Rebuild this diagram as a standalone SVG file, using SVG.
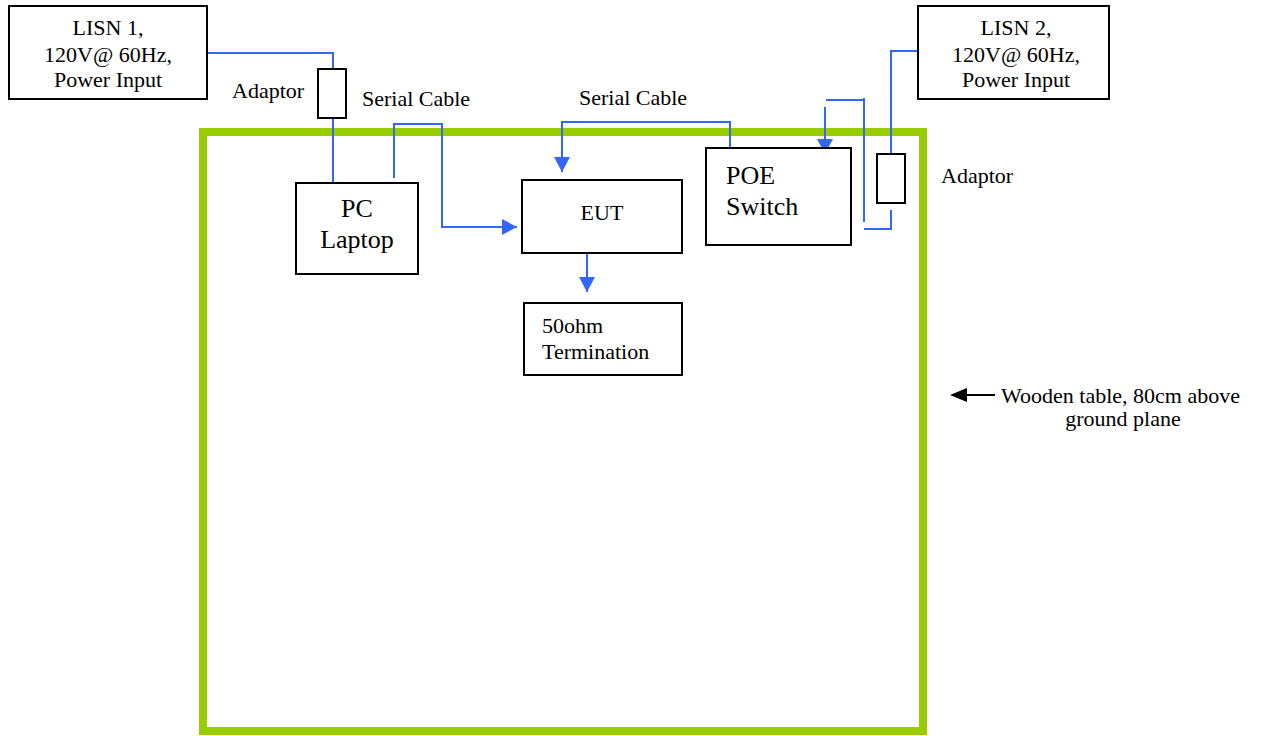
<svg xmlns="http://www.w3.org/2000/svg" width="1265" height="736" viewBox="0 0 1265 736">
<defs>
<style>
.box{fill:#fff;stroke:#000;stroke-width:2}
.t{font-size:22px;fill:#000}
.tb{font-size:26px;fill:#000}
.c{text-anchor:middle}
.w{fill:none;stroke:#3366ff;stroke-width:2}
</style>
<marker id="ab" viewBox="0 0 15 16" refX="15" refY="8" markerWidth="15" markerHeight="16" markerUnits="userSpaceOnUse" orient="auto"><path d="M0,0 L15,8 L0,16 Z" fill="#3366ff"/></marker>
</defs>
<rect id="table" x="203" y="132" width="720" height="599" fill="none" stroke="#99cc00" stroke-width="8"/>
<g id="connectors">
<path class="w" d="M207,53 H333 V69"/>
<path class="w" d="M333,118 V183"/>
<path class="w" d="M394,178 V124 H442 V227 H517" marker-end="url(#ab)"/>
<path class="w" d="M730,148 V122 H562 V172" marker-end="url(#ab)"/>
<path class="w" d="M587,243 V292" marker-end="url(#ab)"/>
<path class="w" d="M918,51 H891 V154"/>
<path class="w" d="M891,210 V229 H864"/>
<path class="w" d="M864,222 V98"/>
<path class="w" d="M864,100 H826"/>
<path class="w" d="M825,107 V154" marker-end="url(#ab)"/>
<path d="M995,395 H960" stroke="#000" stroke-width="2" fill="none"/>
<path d="M950,395 L967,388 L967,402 Z" fill="#000"/>
</g>
<g font-family="Liberation Serif, Times New Roman, serif">
<g id="lisn1"><rect class="box" x="9" y="6" width="198" height="93"/>
<text class="t c" x="108" y="35">LISN 1,</text><text class="t c" x="108" y="62">120V@ 60Hz,</text><text class="t c" x="108" y="87">Power Input</text></g>
<g id="adaptor1"><rect class="box" x="318" y="69" width="28" height="49"/><text class="t" x="232" y="98">Adaptor</text></g>
<g id="pc"><rect class="box" x="296" y="183" width="122" height="91"/>
<text class="tb c" x="357" y="217">PC</text><text class="tb c" x="357" y="248">Laptop</text></g>
<g id="eut"><rect class="box" x="522" y="180" width="160" height="73"/><text class="t c" x="602" y="220">EUT</text></g>
<g id="term"><rect class="box" x="524" y="303" width="158" height="72"/>
<text class="t" x="542" y="333">50ohm</text><text class="t" x="542" y="359">Termination</text></g>
<g id="poe"><rect class="box" x="706" y="148" width="145" height="97"/>
<text class="tb" x="726" y="184">POE</text><text class="tb" x="726" y="215">Switch</text></g>
<g id="lisn2"><rect class="box" x="918" y="6" width="191" height="93"/>
<text class="t c" x="1016" y="35">LISN 2,</text><text class="t c" x="1016" y="62">120V@ 60Hz,</text><text class="t c" x="1016" y="87">Power Input</text></g>
<g id="adaptor2"><rect class="box" x="877" y="154" width="28" height="49"/><text class="t" x="941" y="183">Adaptor</text></g>
<g id="labels">
<text class="t" x="362" y="106">Serial Cable</text>
<text class="t" x="579" y="105">Serial Cable</text>
<text class="t" x="1001" y="403">Wooden table, 80cm above</text>
<text class="t c" x="1123" y="426">ground plane</text>
</g>
</g>
</svg>
